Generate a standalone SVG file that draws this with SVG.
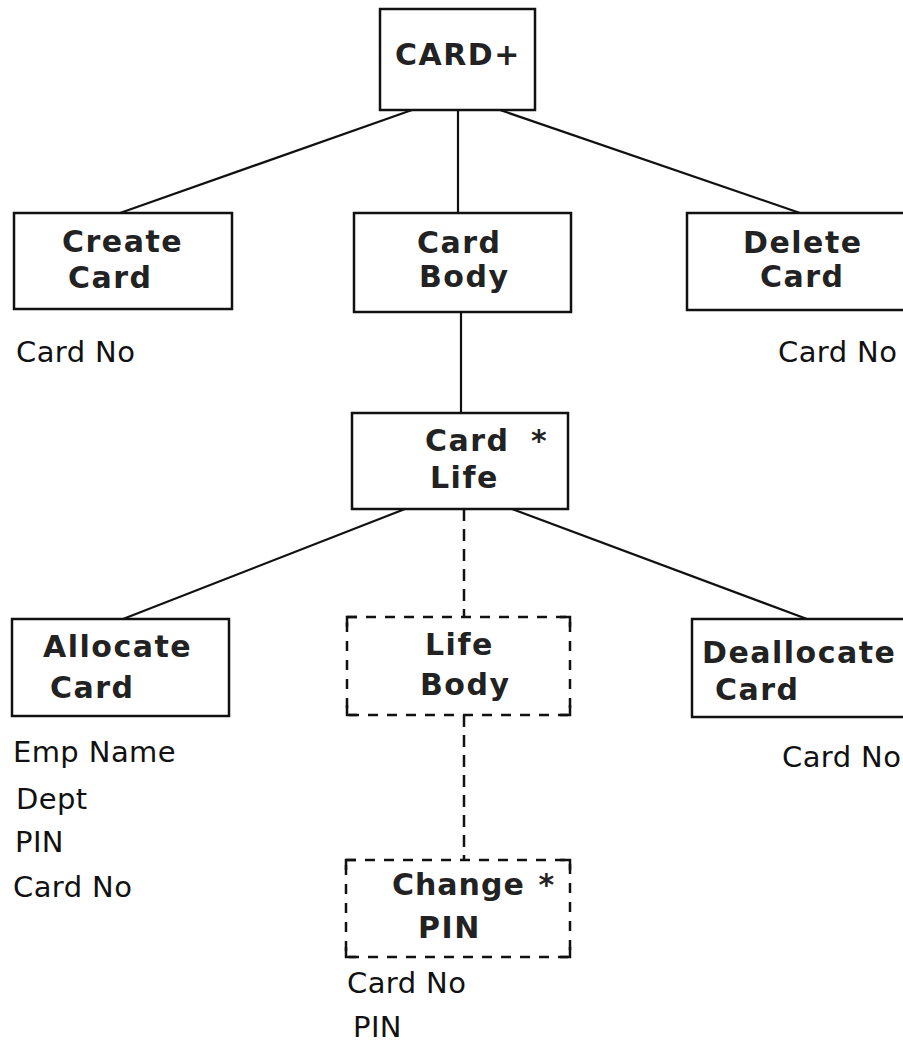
<svg xmlns="http://www.w3.org/2000/svg" width="903" height="1063" viewBox="0 0 903 1063">
<style>
.box{fill:#fff;stroke:#111;stroke-width:2.5}
.dbox{fill:#fff;stroke:#111;stroke-width:2.5;stroke-dasharray:10 9}
.corner{fill:none;stroke:#111;stroke-width:2.5}
.ln{fill:none;stroke:#111;stroke-width:2.2}
.dln{fill:none;stroke:#111;stroke-width:2.5;stroke-dasharray:12 8}
.b{font-family:"DejaVu Sans","Liberation Sans",sans-serif;font-weight:bold;font-size:30px;letter-spacing:1.5px;fill:#222}
.r{font-family:"DejaVu Sans","Liberation Sans",sans-serif;font-size:29px;letter-spacing:0.4px;fill:#111}
</style>
<rect width="903" height="1063" fill="#fff"/>
<g id="connectors">
<line class="ln" x1="412" y1="110" x2="120" y2="213"/>
<line class="ln" x1="458" y1="110" x2="458" y2="213"/>
<line class="ln" x1="500" y1="110" x2="800" y2="213"/>
<line class="ln" x1="461" y1="312" x2="461" y2="413"/>
<line class="ln" x1="405" y1="509" x2="123" y2="619"/>
<line class="ln" x1="512" y1="509" x2="807" y2="619"/>
<line class="dln" x1="464" y1="509" x2="464" y2="617"/>
<line class="dln" x1="464" y1="715" x2="464" y2="860"/>
</g>
<g id="card">
<rect class="box" x="380" y="9" width="155" height="101"/>
<text class="b" x="395" y="65">CARD+</text>
</g>
<g id="create-card">
<rect class="box" x="14" y="213" width="218" height="96"/>
<text class="b" x="62" y="252">Create</text>
<text class="b" x="68" y="288">Card</text>
<text class="r" x="16" y="362">Card No</text>
</g>
<g id="card-body">
<rect class="box" x="354" y="213" width="217" height="99"/>
<text class="b" x="417" y="253">Card</text>
<text class="b" x="419" y="287">Body</text>
</g>
<g id="delete-card">
<path class="box" d="M904,213 H687 V310 H904"/>
<text class="b" x="743" y="253">Delete</text>
<text class="b" x="760" y="287">Card</text>
<text class="r" x="778" y="362">Card No</text>
</g>
<g id="card-life">
<rect class="box" x="352" y="413" width="216" height="96"/>
<text class="b" x="425" y="451">Card<tspan x="519"> *</tspan></text>
<text class="b" x="430" y="488">Life</text>
</g>
<g id="allocate-card">
<rect class="box" x="12" y="619" width="217" height="97"/>
<text class="b" x="43" y="657">Allocate</text>
<text class="b" x="50" y="698">Card</text>
<text class="r" x="13" y="762">Emp Name</text>
<text class="r" x="16" y="809">Dept</text>
<text class="r" x="15" y="852">PIN</text>
<text class="r" x="13" y="897">Card No</text>
</g>
<g id="life-body">
<rect class="dbox" x="347" y="617" width="223" height="98"/>
<path class="corner" d="M347,627 V617 H357 M560,617 H570 V627 M347,705 V715 H357 M560,715 H570 V705"/>
<text class="b" x="425" y="655">Life</text>
<text class="b" x="420" y="695">Body</text>
</g>
<g id="deallocate-card">
<path class="box" d="M904,619 H692 V717 H904"/>
<text class="b" x="702" y="663">Deallocate</text>
<text class="b" x="715" y="700">Card</text>
<text class="r" x="782" y="767">Card No</text>
</g>
<g id="change-pin">
<rect class="dbox" x="346" y="860" width="224" height="97"/>
<path class="corner" d="M346,870 V860 H356 M560,860 H570 V870 M346,947 V957 H356 M560,957 H570 V947"/>
<text class="b" x="392" y="895" style="letter-spacing:1px">Change<tspan x="527"> *</tspan></text>
<text class="b" x="418" y="938">PIN</text>
<text class="r" x="347" y="993">Card No</text>
<text class="r" x="353" y="1037">PIN</text>
</g>
</svg>
